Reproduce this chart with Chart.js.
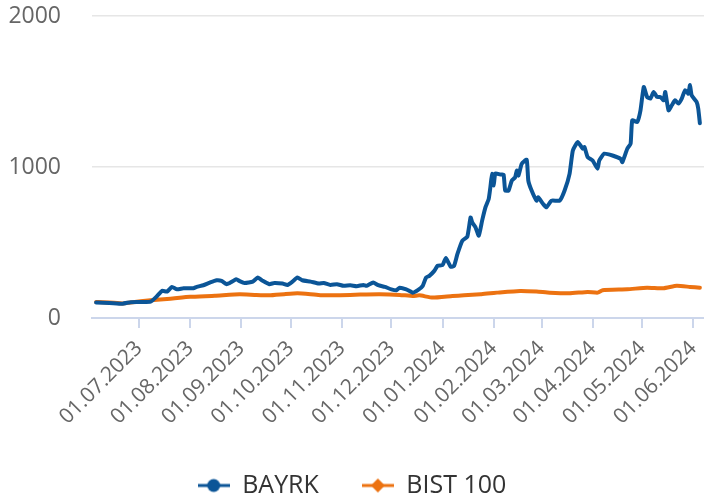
<!DOCTYPE html>
<html>
<head>
<meta charset="utf-8">
<script src="https://cdn.jsdelivr.net/npm/chart.js@4/dist/chart.umd.min.js"></script>
<style>
  html, body { margin: 0; padding: 0; background: #fff; }
  #wrap { width: 704px; height: 499px; }
</style>
</head>
<body>
<div id="wrap"><canvas id="chart"></canvas></div>
<script>
const bayrkDates = [
  '2023-06-05','2023-06-13','2023-06-21','2023-06-26','2023-07-01','2023-07-08','2023-07-12','2023-07-15',
  '2023-07-18','2023-07-21','2023-07-24','2023-07-28','2023-08-03','2023-08-05','2023-08-09','2023-08-13',
  '2023-08-17','2023-08-20','2023-08-23','2023-08-25','2023-08-29','2023-08-31','2023-09-03','2023-09-08',
  '2023-09-11','2023-09-14','2023-09-18','2023-09-21','2023-09-26','2023-09-29','2023-10-02','2023-10-05',
  '2023-10-08','2023-10-13','2023-10-18','2023-10-21','2023-10-25','2023-10-29','2023-11-02','2023-11-06',
  '2023-11-10','2023-11-14','2023-11-16','2023-11-20','2023-11-23','2023-11-27','2023-12-01','2023-12-04',
  '2023-12-06','2023-12-10','2023-12-14','2023-12-17','2023-12-20','2023-12-22','2023-12-24','2023-12-27',
  '2023-12-29','2024-01-01','2024-01-03','2024-01-06','2024-01-08','2024-01-10','2024-01-13','2024-01-16',
  '2024-01-18','2024-01-19','2024-01-21','2024-01-23','2024-01-25','2024-01-27','2024-01-29','2024-01-30',
  '2024-01-31','2024-02-01','2024-02-02','2024-02-05','2024-02-07','2024-02-08','2024-02-10','2024-02-12',
  '2024-02-14','2024-02-15','2024-02-16','2024-02-18','2024-02-21','2024-02-22','2024-02-24','2024-02-27',
  '2024-02-28','2024-03-02','2024-03-04','2024-03-07','2024-03-12','2024-03-15','2024-03-18','2024-03-20',
  '2024-03-23','2024-03-26','2024-03-27','2024-03-29','2024-04-01','2024-04-04','2024-04-05','2024-04-08',
  '2024-04-13','2024-04-18','2024-04-19','2024-04-22','2024-04-24','2024-04-25','2024-04-28','2024-04-30',
  '2024-05-02','2024-05-04','2024-05-06','2024-05-08','2024-05-10','2024-05-12','2024-05-14','2024-05-15',
  '2024-05-17','2024-05-19','2024-05-21','2024-05-23','2024-05-25','2024-05-27','2024-05-29','2024-05-30',
  '2024-05-31','2024-06-03','2024-06-04','2024-06-05'
];
const bayrkValues = [
  102, 100, 95, 105, 106, 108, 146, 180,
  175, 206, 190, 197, 197, 206, 217, 235,
  250, 246, 224, 232, 257, 244, 232, 241,
  268, 246, 224, 232, 228, 219, 241, 268,
  250, 241, 228, 232, 219, 224, 213, 217,
  211, 219, 213, 235, 217, 206, 190, 184,
  201, 190, 168, 184, 213, 268, 279, 312,
  346, 350, 397, 339, 346, 423, 512, 538,
  666, 633, 600, 545, 645, 733, 789, 866,
  955, 877, 957, 950, 950, 844, 844, 910,
  932, 977, 943, 1021, 1048, 910, 844, 777,
  799, 755, 733, 777, 777, 844, 955, 1110,
  1165, 1121, 1132, 1065, 1043, 988, 1043, 1088,
  1076, 1054, 1032, 1121, 1154, 1309, 1298, 1375,
  1530, 1464, 1453, 1497, 1464, 1464, 1442, 1497,
  1375, 1409, 1442, 1420, 1453, 1508, 1486, 1542,
  1475, 1431, 1387, 1290
];

const bistDates = [
  '2023-06-05','2023-06-13','2023-06-21','2023-06-26','2023-07-08','2023-07-20','2023-08-01','2023-08-16',
  '2023-08-31','2023-09-09','2023-09-18','2023-09-27','2023-10-05','2023-10-13','2023-10-19','2023-10-31',
  '2023-11-12','2023-11-24','2023-12-06','2023-12-14','2023-12-18','2023-12-26','2024-01-07','2024-01-14',
  '2024-01-24','2024-01-30','2024-02-03','2024-02-17','2024-02-27','2024-03-06','2024-03-18','2024-03-29',
  '2024-04-04','2024-04-07','2024-04-22','2024-05-04','2024-05-14','2024-05-22','2024-05-30','2024-06-05'
];
const bistValues = [
  106, 103, 96, 103, 118, 128, 140, 147,
  157, 153, 150, 158, 164, 158, 151, 151,
  155, 157, 153, 146, 150, 135, 146, 150,
  157, 164, 168, 179, 175, 168, 164, 173,
  168, 184, 190, 201, 197, 213, 206, 201
];

const monthTicks = [
  '2023-07-01','2023-08-01','2023-09-01','2023-10-01','2023-11-01','2023-12-01',
  '2024-01-01','2024-02-01','2024-03-01','2024-04-01','2024-05-01','2024-06-01'
];
const yTicks = [0, 1000, 2000];

const FONT = '"Open Sans", "DejaVu Sans", sans-serif';
const DAY = 86400000;
const toDay = s => Date.UTC(+s.slice(0, 4), +s.slice(5, 7) - 1, +s.slice(8, 10)) / DAY;
const pad2 = n => String(n).padStart(2, '0');
const fmtDay = v => {
  const d = new Date(Math.round(v) * DAY);
  return pad2(d.getUTCDate()) + '.' + pad2(d.getUTCMonth() + 1) + '.' + d.getUTCFullYear();
};

// legend icons: line with marker, like the original
function legendIcon(color, shape) {
  const c = document.createElement('canvas');
  c.width = 32; c.height = 16;
  const g = c.getContext('2d');
  g.strokeStyle = color;
  g.lineWidth = 3;
  g.beginPath(); g.moveTo(0, 8); g.lineTo(32, 8); g.stroke();
  g.fillStyle = color;
  g.beginPath();
  if (shape === 'circle') {
    g.arc(16, 8, 6.5, 0, Math.PI * 2);
  } else {
    g.moveTo(16, 1); g.lineTo(23, 8); g.lineTo(16, 15); g.lineTo(9, 8); g.closePath();
  }
  g.fill();
  return c;
}

const BLUE = '#0b5597';
const ORANGE = '#ec7211';
const PLOT_BOTTOM = 318;
const PAD_BOTTOM = -9;

new Chart(document.getElementById('chart'), {
  type: 'line',
  data: {
    datasets: [{
      label: 'BAYRK',
      data: bayrkDates.map((d, i) => ({ x: toDay(d), y: bayrkValues[i] })),
      borderColor: BLUE,
      backgroundColor: BLUE,
      borderWidth: 4,
      borderJoinStyle: 'round',
      borderCapStyle: 'round',
      pointRadius: 0,
      pointStyle: legendIcon(BLUE, 'circle'),
      tension: 0.15,
    }, {
      label: 'BIST 100',
      data: bistDates.map((d, i) => ({ x: toDay(d), y: bistValues[i] })),
      borderColor: ORANGE,
      backgroundColor: ORANGE,
      borderWidth: 4,
      borderJoinStyle: 'round',
      borderCapStyle: 'round',
      pointRadius: 0,
      pointStyle: legendIcon(ORANGE, 'diamond'),
      tension: 0.15,
    }]
  },
  options: {
    responsive: true,
    maintainAspectRatio: false,
    animation: false,
    events: [],
    layout: { padding: { top: 16, left: 0, right: 0, bottom: PAD_BOTTOM } },
    plugins: {
      tooltip: { enabled: false },
      legend: {
        position: 'bottom',
        labels: {
          usePointStyle: true,
          pointStyleWidth: 32,
          padding: 43,
          color: '#333333',
          font: { family: FONT, size: 25 },
        }
      }
    },
    scales: {
      x: {
        type: 'linear',
        min: toDay('2023-07-01') - 28.5,
        max: toDay('2023-07-01') + 342.5,
        afterBuildTicks: s => { s.ticks = monthTicks.map(d => ({ value: toDay(d) })); },
        afterFit: s => {
          const lg = s.chart.legend ? s.chart.legend.height : 0;
          s.height = s.chart.height - PAD_BOTTOM - lg - PLOT_BOTTOM;
          // the rotated labels should not push the plot in from the right
          s.paddingLeft = 0;
          s.paddingRight = 0;
        },
        ticks: {
          autoSkip: false,
          minRotation: 45,
          maxRotation: 45,
          padding: 8,
          color: '#666666',
          font: { family: FONT, size: 21 },
          callback: v => fmtDay(v),
        },
        grid: { drawOnChartArea: false, drawTicks: true, tickLength: 10, color: '#ccd6eb', lineWidth: 2 },
        border: { color: '#ccd6eb', width: 2 },
      },
      y: {
        min: 0,
        max: 2000,
        afterBuildTicks: s => { s.ticks = yTicks.map(v => ({ value: v })); },
        afterFit: s => { s.width = 92; },
        ticks: {
          padding: 0,
          color: '#666666',
          font: { family: FONT, size: 23 },
          callback: v => String(v),
        },
        grid: {
          drawTicks: true,
          tickLength: 31,
          tickColor: 'rgba(0,0,0,0)',
          lineWidth: 1.5,
          color: c => (c.tick && c.tick.value === 0) ? 'rgba(0,0,0,0)' : '#e6e6e6',
        },
        border: { display: false },
      }
    }
  }
});
</script>
</body>
</html>
